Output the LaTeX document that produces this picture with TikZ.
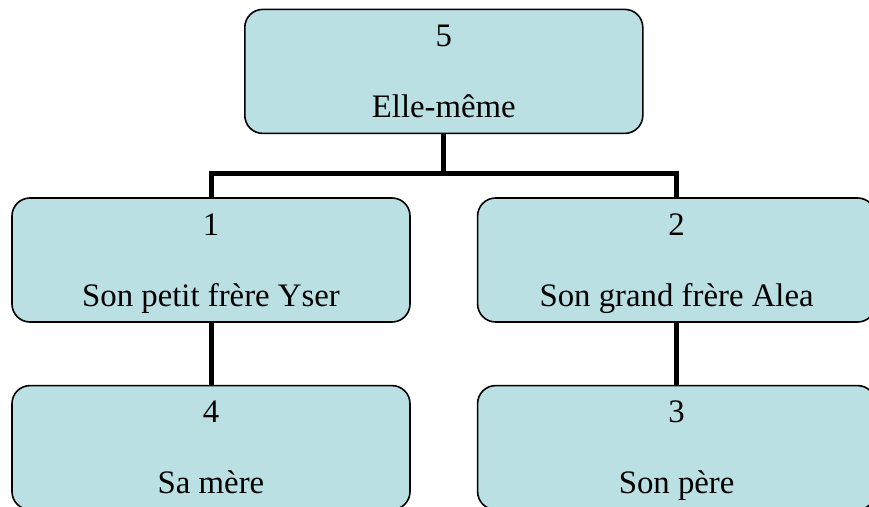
\documentclass[tikz,border=0pt]{standalone}
\usepackage{fontspec}
\setmainfont{Liberation Serif}
\usetikzlibrary{positioning, calc}
\definecolor{boxfill}{HTML}{BBE0E3}
\tikzset{
member/.style={draw, line width=1.6pt, fill=boxfill, rounded corners=18pt,
  minimum width=398pt, minimum height=124pt, align=center, inner sep=0pt,
  text depth=0pt, font=\fontsize{32.8}{71}\selectfont}, % one box of the family tree
link/.style={line width=5pt}, % thick black connector
}

\begin{document}
\begin{tikzpicture}
        \useasboundingbox (0,0) rectangle (869pt,-506pt);
        \node[member] (p1) at (211pt,-260pt) {1\\Son petit frère Yser};
        \node[member, right=66pt of p1] (p2) {2\\Son grand frère Alea};
        \node[member, below=62pt of p1] (p4) {4\\Sa mère};
        \node[member, below=62pt of p2] (p3) {3\\Son père};
        \node[member, above=63pt of {$(p1.north)!0.5!(p2.north)$}] (p5) {5\\Elle-même};
        \coordinate (bar) at ($(p5.south)+(0,-39pt)$);

        \draw[link] (p5) -- (bar);
        \draw[link] (p1) |- (bar) -| (p2);
        \draw[link] (p1) -- (p4);
        \draw[link] (p2) -- (p3);
    \end{tikzpicture}
\end{document}
